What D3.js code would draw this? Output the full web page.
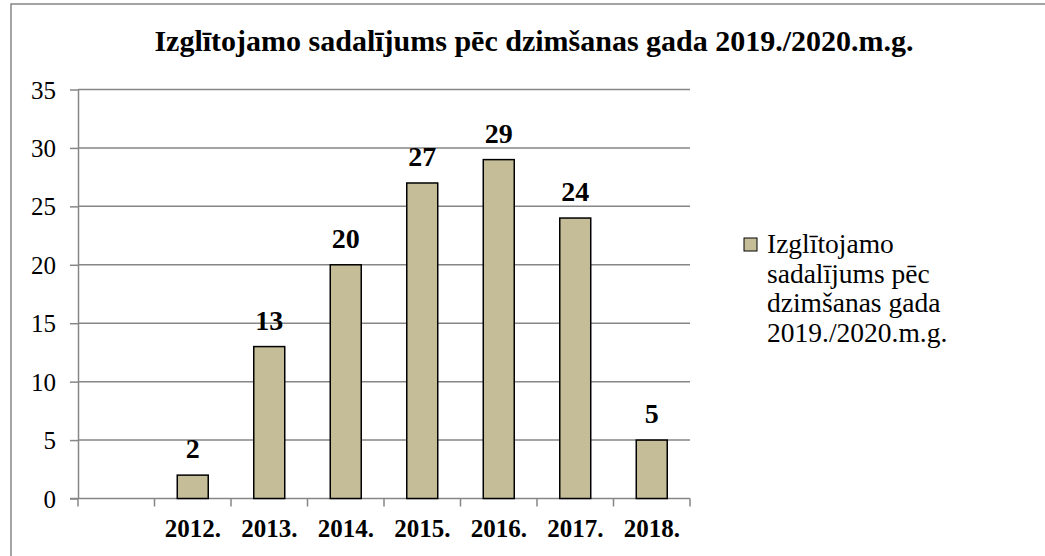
<!DOCTYPE html>
<html>
<head>
<meta charset="utf-8">
<script src="https://cdn.jsdelivr.net/npm/d3@7"></script>
<style>
  body { margin: 0; background: #fff; }
</style>
</head>
<body>
<div class="chart"></div>
<script>
// chart data
const categories = ["", "2012.", "2013.", "2014.", "2015.", "2016.", "2017.", "2018."];
const values = [null, 2, 13, 20, 27, 29, 24, 5];
const yTicks = [0, 5, 10, 15, 20, 25, 30, 35];
const titleText = "Izglītojamo sadalījums pēc dzimšanas gada 2019./2020.m.g.";
const legendLines = ["Izglītojamo", "sadalījums pēc", "dzimšanas gada", "2019./2020.m.g."];

const W = 1045, H = 556;
const barFill = "#c4bd97", gridColor = "#868686";
const FONT = '"Liberation Serif"';

const svg = d3.select(".chart").append("svg")
  .attr("width", W)
  .attr("height", H);

svg.append("rect").attr("width", W).attr("height", H).attr("fill", "#fff");

// outer frame (runs off right and bottom)
svg.append("rect")
  .attr("x", 11).attr("y", 4)
  .attr("width", W).attr("height", H)
  .attr("fill", "none")
  .attr("stroke", gridColor)
  .attr("stroke-width", 1.5);

const x = d3.scaleBand().domain(categories).range([78, 690]).padding(0);
const y = d3.scaleLinear().domain([0, 35]).range([498.5, 89.5]);

// gridlines
svg.append("g").selectAll("line")
  .data(yTicks.slice(1))
  .enter().append("line")
  .attr("x1", 78).attr("x2", 690)
  .attr("y1", d => y(d)).attr("y2", d => y(d))
  .attr("stroke", gridColor).attr("stroke-width", 1.5);

// y axis
const yAxis = svg.append("g")
  .attr("transform", "translate(78,0)")
  .call(d3.axisLeft(y).tickValues(yTicks).tickSize(8).tickPadding(14).tickSizeOuter(0));
yAxis.attr("font-family", null).attr("font-size", null);
yAxis.select(".domain").attr("stroke", gridColor).attr("stroke-width", 1.5);
yAxis.selectAll(".tick line").attr("stroke", gridColor).attr("stroke-width", 1.5);
yAxis.selectAll(".tick text")
  .style("font-family", FONT)
  .style("font-size", "25px")
  .attr("fill", "#000")
  .attr("dy", "0.34em");

// x axis line + ticks at band edges
const xAxisG = svg.append("g");
xAxisG.append("line")
  .attr("x1", 70).attr("x2", 690)
  .attr("y1", y(0)).attr("y2", y(0))
  .attr("stroke", gridColor).attr("stroke-width", 1.5);
const edges = categories.map(c => x(c)).concat([x(categories[categories.length - 1]) + x.bandwidth()]);
xAxisG.selectAll(".edge")
  .data(edges)
  .enter().append("line")
  .attr("x1", d => d).attr("x2", d => d)
  .attr("y1", y(0)).attr("y2", y(0) + 8)
  .attr("stroke", gridColor).attr("stroke-width", 1.5);
xAxisG.selectAll(".cat")
  .data(categories)
  .enter().append("text")
  .attr("x", d => x(d) + x.bandwidth() / 2)
  .attr("y", 537)
  .attr("text-anchor", "middle")
  .style("font-family", FONT)
  .style("font-size", "25px")
  .style("font-weight", "bold")
  .text(d => d);

// bars
const rows = categories.map((c, i) => ({ cat: c, v: values[i] })).filter(d => d.v != null);
const bw = x.bandwidth() * 0.405;

svg.append("g").selectAll("rect")
  .data(rows)
  .enter().append("rect")
  .attr("x", d => x(d.cat) + (x.bandwidth() - bw) / 2)
  .attr("y", d => y(d.v))
  .attr("width", bw)
  .attr("height", d => y(0) - y(d.v))
  .attr("fill", barFill)
  .attr("stroke", "#000")
  .attr("stroke-width", 1.5);

svg.append("g").selectAll("text")
  .data(rows)
  .enter().append("text")
  .attr("x", d => x(d.cat) + x.bandwidth() / 2)
  .attr("y", d => y(d.v) - 17)
  .attr("text-anchor", "middle")
  .style("font-family", FONT)
  .style("font-size", "28px")
  .style("font-weight", "bold")
  .text(d => d.v);

// title
svg.append("text")
  .attr("x", 534).attr("y", 51)
  .attr("text-anchor", "middle")
  .style("font-family", FONT)
  .style("font-size", "30px")
  .style("font-weight", "bold")
  .text(titleText);

// legend
const lg = svg.append("g").attr("transform", "translate(744,238)");
lg.append("rect")
  .attr("width", 13).attr("height", 13)
  .attr("fill", barFill).attr("stroke", "#000").attr("stroke-width", 1);
lg.selectAll("text")
  .data(legendLines)
  .enter().append("text")
  .attr("x", 23)
  .attr("y", (d, i) => 15 + i * 29.5)
  .style("font-family", FONT)
  .style("font-size", "27.5px")
  .text(d => d);
</script>
</body>
</html>
